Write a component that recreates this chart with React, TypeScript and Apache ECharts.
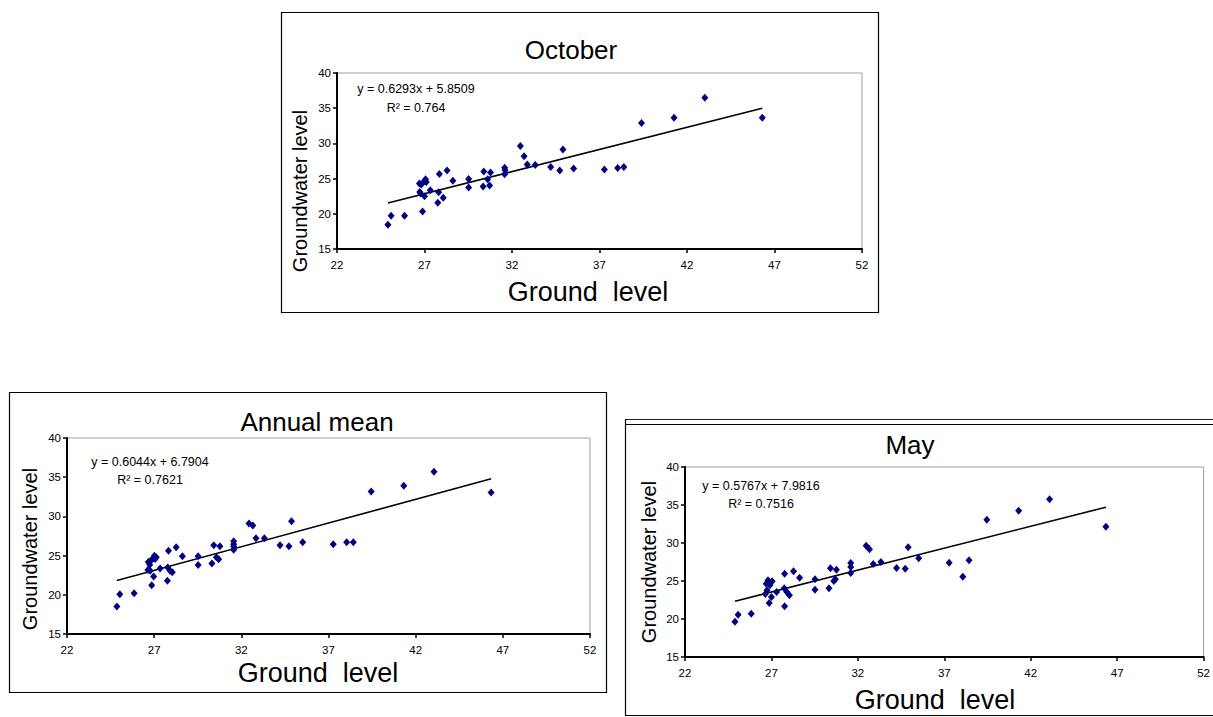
import React, { useEffect, useRef } from "react";
import * as echarts from "echarts";

// ---- Data ----
const octGround = [24.91, 25.09, 25.86, 26.89, 26.71, 26.82, 27.0, 27.06, 27.1, 26.73, 26.78, 27.0, 27.33, 27.85, 27.81, 27.76, 28.07, 28.29, 28.62, 29.52, 29.52, 30.39, 30.35, 30.61, 30.77, 30.72, 31.58, 31.6, 31.58, 32.48, 32.69, 32.87, 33.33, 34.21, 34.73, 34.91, 35.52, 37.28, 38.04, 38.39, 39.4, 41.26, 43.02, 46.3];
const octWater = [18.43, 19.73, 19.73, 20.31, 24.31, 24.17, 24.65, 24.89, 24.5, 23.1, 22.87, 22.48, 23.35, 25.67, 23.06, 21.56, 22.29, 26.15, 24.7, 24.94, 23.74, 26.0, 23.88, 24.89, 25.85, 24.03, 26.53, 26.2, 25.62, 29.62, 28.18, 27.02, 26.92, 26.63, 26.15, 29.14, 26.44, 26.29, 26.49, 26.63, 32.9, 33.63, 36.48, 33.63];

const annGround = [24.86, 25.03, 25.85, 26.86, 26.66, 26.75, 26.79, 26.9, 27.01, 27.05, 27.12, 26.64, 26.77, 26.97, 27.34, 27.82, 27.78, 27.76, 27.91, 28.04, 28.26, 28.62, 29.52, 29.52, 30.42, 30.31, 30.57, 30.7, 30.77, 31.56, 31.56, 31.56, 31.56, 32.44, 32.66, 32.84, 33.32, 34.22, 34.73, 34.88, 35.52, 37.27, 38.04, 38.42, 39.45, 41.32, 43.05, 46.33];
const annWater = [18.52, 20.06, 20.19, 21.22, 24.18, 23.83, 24.35, 24.56, 24.99, 24.56, 24.78, 23.15, 23.06, 22.33, 23.36, 25.63, 23.49, 21.78, 23.06, 22.89, 26.06, 24.91, 24.91, 23.79, 26.32, 24.0, 24.78, 24.52, 26.19, 26.84, 26.45, 26.15, 25.76, 29.11, 28.85, 27.22, 27.22, 26.32, 26.19, 29.37, 26.71, 26.45, 26.71, 26.71, 33.18, 33.91, 35.71, 33.05];

const mayGround = [24.89, 25.07, 25.83, 26.87, 26.65, 26.74, 26.7, 26.8, 26.91, 27.04, 27.0, 27.3, 27.76, 27.74, 27.76, 27.89, 28.04, 28.28, 28.63, 29.52, 29.52, 30.33, 30.41, 30.61, 30.7, 30.76, 31.59, 31.59, 31.59, 32.48, 32.67, 32.89, 33.33, 34.24, 34.74, 34.91, 35.52, 37.28, 38.07, 38.43, 39.46, 41.3, 43.09, 46.35];
const mayWater = [19.65, 20.57, 20.7, 22.11, 23.29, 23.77, 24.65, 25.09, 24.43, 24.96, 22.89, 23.55, 25.96, 24.04, 21.67, 23.55, 23.11, 26.27, 25.44, 25.22, 23.86, 24.04, 26.67, 25.0, 25.22, 26.49, 27.37, 26.84, 26.05, 29.65, 29.17, 27.24, 27.5, 26.71, 26.62, 29.43, 27.98, 27.41, 25.57, 27.72, 33.07, 34.25, 35.75, 32.15];

const chartTitles = ["October", "Annual mean", "May"];
const slopes = [0.6293, 0.6044, 0.5767];
const intercepts = [5.8509, 6.7904, 7.9816];
const equations = ["y = 0.6293x + 5.8509", "y = 0.6044x + 6.7904", "y = 0.5767x + 7.9816"];
const rSquared = ["R\u00b2 = 0.764", "R\u00b2 = 0.7621", "R\u00b2 = 0.7516"];
const xAxisName = "Ground  level";
const yAxisName = "Groundwater level";
const xMin = 22, xMax = 52, xStep = 5;
const yMin = 15, yMax = 40, yStep = 5;

const FONT = "'Liberation Sans', Arial, sans-serif";

const grounds = [octGround, annGround, mayGround];
const waters = [octWater, annWater, mayWater];

// layout per panel
const grids = [
  { left: 337, top: 73, width: 525, height: 176 },
  { left: 67, top: 438, width: 523, height: 196 },
  { left: 685, top: 467, width: 522, height: 190 },
];
const titlePos = [[571, 50], [317, 422], [910, 445]];
const xNamePos = [[588, 292], [318, 673], [935, 700]];
const yNamePos = [[300, 191], [30, 549], [649, 562]];
const eqPos = [[416, 89], [150, 462], [761, 486]];
const r2Pos = [[416, 108], [150, 480], [761, 504]];

export default function App() {
  const ref = useRef<HTMLDivElement>(null);
  useEffect(() => {
    if (!ref.current) return;
    const chart = echarts.init(ref.current, null, { renderer: "svg" });

    const xAxes: any[] = [];
    const yAxes: any[] = [];
    const series: any[] = [];
    const graphic: any[] = [];

    grids.forEach((g, i) => {
      xAxes.push({
        gridIndex: i,
        type: "value",
        min: xMin,
        max: xMax,
        interval: xStep,
        axisLine: { show: true, onZero: false, lineStyle: { color: "#000", width: 2 } },
        axisTick: { show: true, inside: false, length: 4, lineStyle: { color: "#000", width: 1.5 } },
        axisLabel: { color: "#000", fontSize: 11.5, fontFamily: FONT, margin: 10 },
        splitLine: { show: false },
      });
      yAxes.push({
        gridIndex: i,
        type: "value",
        min: yMin,
        max: yMax,
        interval: yStep,
        axisLine: { show: true, onZero: false, lineStyle: { color: "#000", width: 2 } },
        axisTick: { show: true, inside: false, length: 4, lineStyle: { color: "#000", width: 1.5 } },
        axisLabel: { color: "#000", fontSize: 11.5, fontFamily: FONT, margin: 6 },
        splitLine: { show: false },
      });
      const gx = grounds[i];
      const gy = waters[i];
      series.push({
        type: "scatter",
        xAxisIndex: i,
        yAxisIndex: i,
        symbol: "diamond",
        symbolSize: [7, 8],
        itemStyle: { color: "#000080", opacity: 1 },
        data: gx.map((x, k) => [x, gy[k]]),
        z: 3,
      });
      const x0 = Math.min(...gx);
      const x1 = Math.max(...gx);
      series.push({
        type: "line",
        xAxisIndex: i,
        yAxisIndex: i,
        symbol: "none",
        lineStyle: { color: "#000", width: 1.6 },
        data: [
          [x0, slopes[i] * x0 + intercepts[i]],
          [x1, slopes[i] * x1 + intercepts[i]],
        ],
        z: 2,
      });

      graphic.push({
        type: "text",
        x: titlePos[i][0],
        y: titlePos[i][1],
        style: { text: chartTitles[i], fontSize: 26, fontFamily: FONT, fill: "#000", align: "center", verticalAlign: "middle" },
      });
      graphic.push({
        type: "text",
        x: xNamePos[i][0],
        y: xNamePos[i][1],
        style: { text: xAxisName, fontSize: 27, fontFamily: FONT, fill: "#000", align: "center", verticalAlign: "middle" },
      });
      graphic.push({
        type: "text",
        x: yNamePos[i][0],
        y: yNamePos[i][1],
        rotation: Math.PI / 2,
        style: { text: yAxisName, fontSize: 20, fontFamily: FONT, fill: "#000", align: "center", verticalAlign: "middle" },
      });
      graphic.push({
        type: "text",
        x: eqPos[i][0],
        y: eqPos[i][1],
        style: { text: equations[i], fontSize: 12.5, fontFamily: FONT, fill: "#000", align: "center", verticalAlign: "middle" },
      });
      graphic.push({
        type: "text",
        x: r2Pos[i][0],
        y: r2Pos[i][1],
        style: { text: rSquared[i], fontSize: 12.5, fontFamily: FONT, fill: "#000", align: "center", verticalAlign: "middle" },
      });
    });

    // frames
    graphic.push({
      type: "rect",
      shape: { x: 281.5, y: 12.5, width: 597, height: 300 },
      style: { fill: "none", stroke: "#000", lineWidth: 1.2 },
      z: 10,
    });
    graphic.push({
      type: "rect",
      shape: { x: 9.5, y: 392.5, width: 597, height: 300 },
      style: { fill: "none", stroke: "#000", lineWidth: 1.2 },
      z: 10,
    });
    graphic.push({
      type: "line",
      shape: { x1: 625, y1: 419.5, x2: 1213, y2: 419.5 },
      style: { stroke: "#222", lineWidth: 1.2 },
      z: 10,
    });
    graphic.push({
      type: "line",
      shape: { x1: 625, y1: 424.5, x2: 1213, y2: 424.5 },
      style: { stroke: "#000", lineWidth: 1.2 },
      z: 10,
    });
    graphic.push({
      type: "line",
      shape: { x1: 625.5, y1: 419, x2: 625.5, y2: 716 },
      style: { stroke: "#000", lineWidth: 1.2 },
      z: 10,
    });
    graphic.push({
      type: "line",
      shape: { x1: 625, y1: 715.5, x2: 1213, y2: 715.5 },
      style: { stroke: "#000", lineWidth: 1.2 },
      z: 10,
    });

    chart.setOption({
      animation: false,
      backgroundColor: "#fff",
      grid: grids.map((g) => ({
        ...g,
        show: true,
        borderColor: "#a0a0a0",
        borderWidth: 1,
        backgroundColor: "transparent",
      })),
      xAxis: xAxes,
      yAxis: yAxes,
      series,
      graphic,
    });
    return () => chart.dispose();
  }, []);

  return (
    <div
      ref={ref}
      style={{ position: "fixed", left: 0, top: 0, width: 1213, height: 717, background: "#fff" }}
    />
  );
}
